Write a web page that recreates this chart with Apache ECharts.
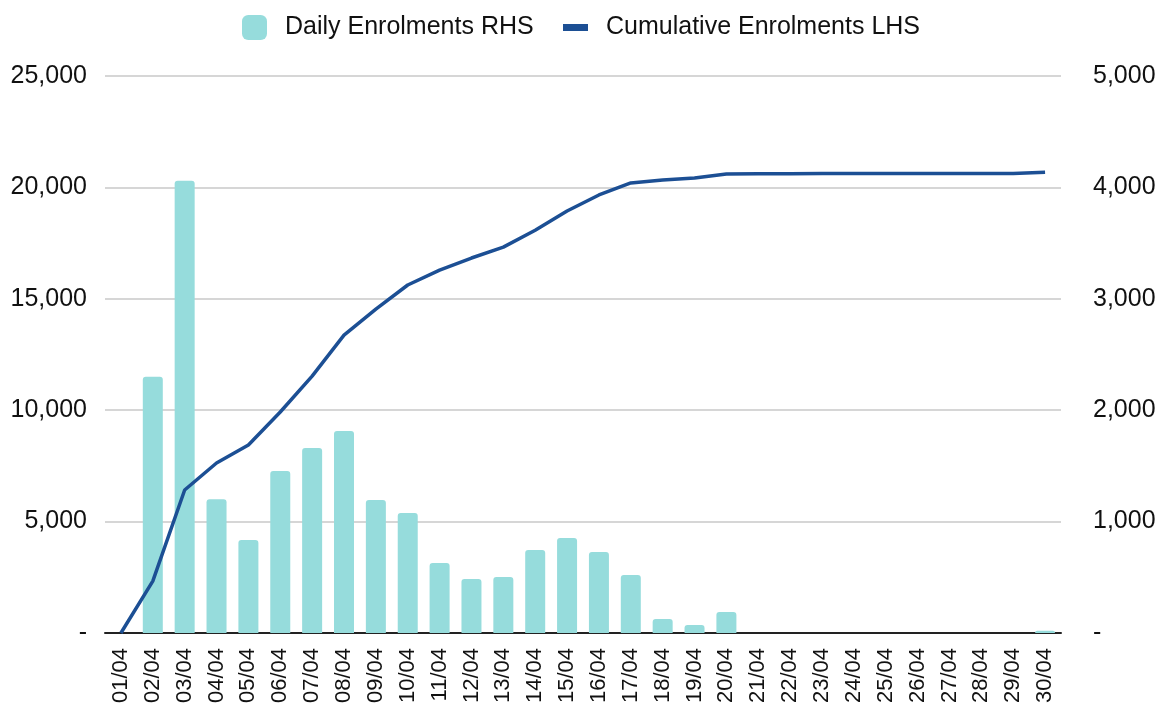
<!DOCTYPE html>
<html><head><meta charset="utf-8">
<script src="https://cdn.jsdelivr.net/npm/echarts@6/dist/echarts.min.js"></script>
<style>html,body{margin:0;padding:0;background:#fff}#c{width:1164px;height:710px}</style>
</head><body><div id="c"></div>
<script>
const categories = ['01/04','02/04','03/04','04/04','05/04','06/04','07/04','08/04','09/04','10/04','11/04','12/04','13/04','14/04','15/04','16/04','17/04','18/04','19/04','20/04','21/04','22/04','23/04','24/04','25/04','26/04','27/04','28/04','29/04','30/04'];
const dailyRHS = [0,2300,4060,1200,835,1454,1661,1813,1194,1077,628,485,503,745,853,727,521,126,72,189,0,0,0,0,0,0,0,0,0,20];
const cumulativeLHS = [0,2330,6420,7630,8440,9920,11530,13370,14540,15620,16290,16830,17320,18080,18940,19660,20200,20330,20420,20600,20610,20610,20620,20620,20620,20620,20620,20620,20620,20680];
const leftTicks = [0,5000,10000,15000,20000,25000];
const rightTicks = [0,1000,2000,3000,4000,5000];

const fmt = v => v === 0 ? '-' : v.toLocaleString('en-US');
const chart = echarts.init(document.getElementById('c'));
chart.setOption({
  animation:false,
  textStyle:{fontFamily:'Liberation Sans, Arial, sans-serif'},
  legend:[
    {top:10,left:237,itemWidth:25,itemHeight:25,
      textStyle:{fontSize:25,color:'#111',padding:[0,0,0,13]},
      data:[{name:'Daily Enrolments RHS',icon:'roundRect'}]},
    {top:10,left:558,itemWidth:25,itemHeight:7,
      textStyle:{fontSize:25,color:'#111',padding:[0,0,0,13]},
      data:[{name:'Cumulative Enrolments LHS',icon:'rect'}]}
  ],
  grid:{left:105,right:103,top:76,bottom:77,containLabel:false},
  xAxis:{type:'category',data:categories,boundaryGap:true,
    axisLine:{lineStyle:{color:'#222',width:2}},axisTick:{show:false},
    axisLabel:{rotate:90,fontSize:22,color:'#111',margin:15,interval:0}},
  yAxis:[
    {type:'value',min:leftTicks[0],max:leftTicks[leftTicks.length-1],interval:5000,
      axisLine:{show:false},axisTick:{show:false},
      axisLabel:{fontSize:25,color:'#111',formatter:fmt,margin:18},
      splitLine:{lineStyle:{color:'#c8c8c8',width:1.5}}},
    {type:'value',min:rightTicks[0],max:rightTicks[rightTicks.length-1],interval:1000,
      axisLine:{show:false},axisTick:{show:false},
      axisLabel:{fontSize:25,color:'#111',formatter:fmt,margin:32},
      splitLine:{show:false}}
  ],
  series:[
    {name:'Daily Enrolments RHS',type:'bar',yAxisIndex:1,data:dailyRHS,barWidth:20,
      itemStyle:{color:'#96dcdc',borderRadius:[3,3,0,0]}},
    {name:'Cumulative Enrolments LHS',type:'line',yAxisIndex:0,data:cumulativeLHS,
      symbol:'none',lineStyle:{color:'#1c4f94',width:3.5},itemStyle:{color:'#1c4f94'}}
  ]
});
</script></body></html>
